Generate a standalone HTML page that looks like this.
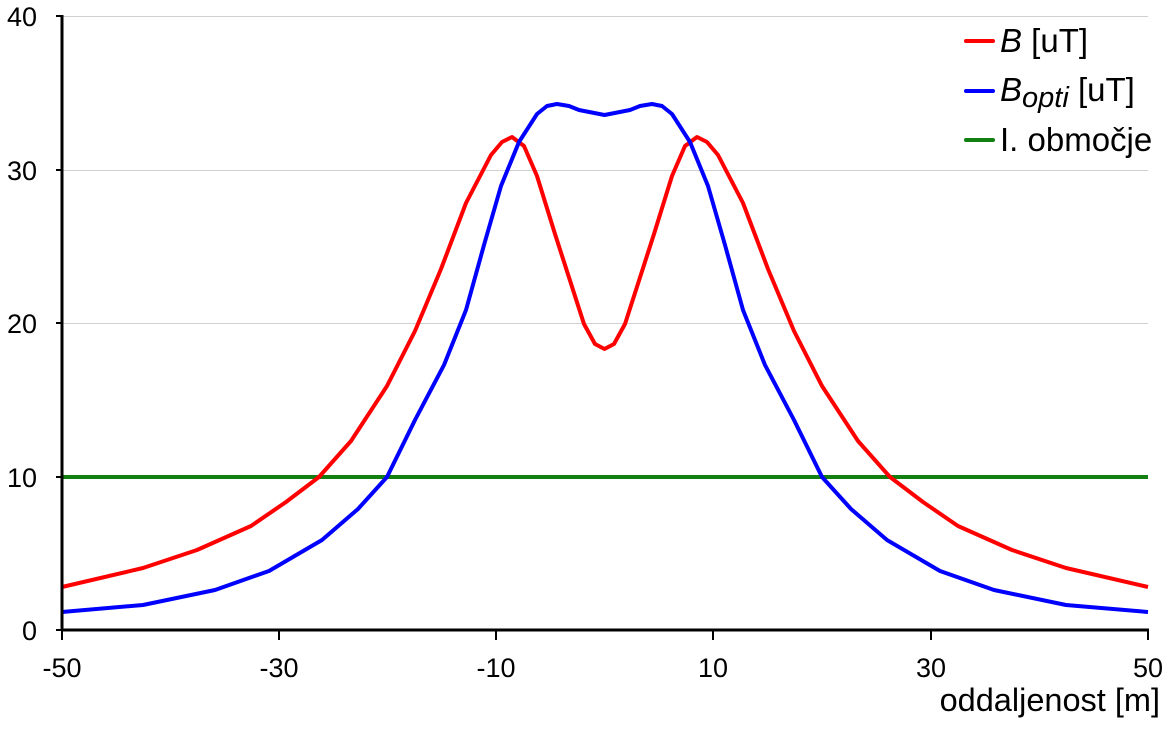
<!DOCTYPE html>
<html><head><meta charset="utf-8"><style>
html,body{margin:0;padding:0;background:#fff;}
svg{display:block;font-family:"Liberation Sans",Arial,sans-serif;}
</style></head><body>
<svg width="1165" height="732" viewBox="0 0 1165 732" xmlns="http://www.w3.org/2000/svg">
<g stroke="#d0d0d0" stroke-width="1">
<line x1="62" y1="16.5" x2="1148" y2="16.5"/>
<line x1="62" y1="170.5" x2="1148" y2="170.5"/>
<line x1="62" y1="323.5" x2="1148" y2="323.5"/>
</g>
<g font-size="27" fill="#000" text-anchor="end">
<text x="37" y="26">40</text>
<text x="37" y="180">30</text>
<text x="37" y="333">20</text>
<text x="37" y="487">10</text>
<text x="37" y="640">0</text>
</g>
<g font-size="27" fill="#000" text-anchor="middle">
<text x="62" y="677">-50</text>
<text x="279" y="677">-30</text>
<text x="496" y="677">-10</text>
<text x="713" y="677">10</text>
<text x="931" y="677">30</text>
<text x="1148" y="677">50</text>
</g>
<text x="1160" y="711" font-size="32.5" text-anchor="end">oddaljenost [m]</text>
<line x1="62" y1="477" x2="1148" y2="477" stroke="#118011" stroke-width="4"/>
<polyline fill="none" stroke="#ff0000" stroke-width="4" stroke-linejoin="round" points="62,587 143,568 197,550 251,526 286,502 319,477 351,441 387,386 415,331 441,269 466,203 491,155 502,142 512,137 524,146 537,176 555,234 584,324 595,344 604.5,349 614,344 625,324 654,234 672,176 685,146 697,137 707,142 718,155 743,203 768,269 794,331 822,386 858,441 890,477 923,502 958,526 1012,550 1066,568 1148,587"/>
<polyline fill="none" stroke="#0000ff" stroke-width="4" stroke-linejoin="round" points="62,612 143,605 215,590 269,571 322,540 358,509 387,477 415,420 444,365 466,310 484,245 501,186 519,142 537,114 547,106 557,104 569,106 579,110 604.5,115 630,110 640,106 652,104 662,106 672,114 690,142 708,186 725,245 743,310 765,365 794,420 822,477 851,509 887,540 940,571 994,590 1066,605 1148,612"/>
<g stroke="#000" stroke-width="3">
<line x1="62" y1="15" x2="62" y2="631"/>
<line x1="61" y1="630" x2="1149" y2="630"/>
</g>
<g stroke="#000" stroke-width="2">
<line x1="56" y1="16" x2="62" y2="16"/><line x1="56" y1="170" x2="62" y2="170"/><line x1="56" y1="323" x2="62" y2="323"/><line x1="56" y1="477" x2="62" y2="477"/><line x1="56" y1="630" x2="62" y2="630"/>
<line x1="62" y1="630" x2="62" y2="640"/><line x1="279" y1="630" x2="279" y2="640"/><line x1="496" y1="630" x2="496" y2="640"/><line x1="713" y1="630" x2="713" y2="640"/><line x1="931" y1="630" x2="931" y2="640"/><line x1="1148" y1="630" x2="1148" y2="640"/>
</g>
<g stroke-width="4" stroke-linecap="round">
<line x1="966" y1="41" x2="993" y2="41" stroke="#ff0000"/>
<line x1="966" y1="91" x2="993" y2="91" stroke="#0000ff"/>
<line x1="966" y1="140" x2="993" y2="140" stroke="#118011"/>
</g>
<g font-size="33" fill="#000">
<text x="1000" y="52"><tspan font-style="italic">B</tspan> [uT]</text>
<text x="1000" y="101"><tspan font-style="italic">B</tspan><tspan font-style="italic" font-size="29" dy="6">opti</tspan><tspan dy="-6"> [uT]</tspan></text>
<text x="1000" y="151">I. območje</text>
</g>
</svg>
</body></html>
